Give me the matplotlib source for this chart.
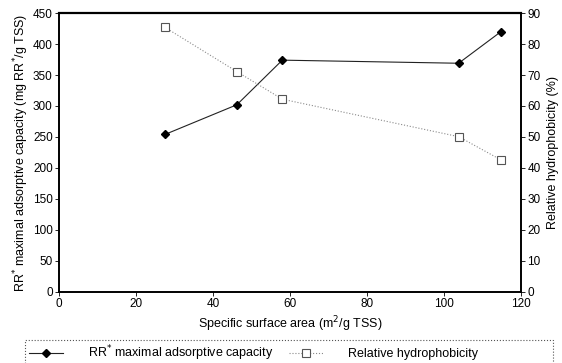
import numpy as np
import matplotlib
matplotlib.use("Agg")
import matplotlib.pyplot as plt
from matplotlib.patches import Rectangle

plt.rcParams['font.family'] = ['Liberation Sans', 'DejaVu Sans']
plt.rcParams['font.size'] = 9

# specific surface area (m2/g TSS)
surface_area = [27.5, 46.2, 58.0, 103.8, 114.8]
# RR maximal adsorptive capacity (mg/g TSS)
capacity = [254, 302, 374, 369, 420]
# relative hydrophobicity (%)
hydrophobicity = [85.4, 71.1, 62.2, 50.1, 42.6]

fig = plt.figure(figsize=(5.62, 3.63), dpi=100)
ax = fig.add_axes([0.105, 0.196, 0.822, 0.768])
ax2 = ax.twinx()

l1, = ax.plot(surface_area, capacity, color='#222222', lw=0.8,
              marker='D', markersize=4.5, markerfacecolor='black',
              markeredgecolor='black',
              label='RR$^{*}$ maximal adsorptive capacity')
l2, = ax2.plot(surface_area, hydrophobicity, color='#8a8a8a', lw=0.8,
               linestyle=':', marker='s', markersize=5.5,
               markerfacecolor='white', markeredgecolor='#555555',
               markeredgewidth=0.8, label='Relative hydrophobicity')

ax.set_xlim(0, 120)
ax.set_ylim(0, 450)
ax2.set_ylim(0, 90)
ax.set_xticks(np.arange(0, 121, 20))
ax.set_yticks(np.arange(0, 451, 50))
ax2.set_yticks(np.arange(0, 91, 10))

for a in (ax, ax2):
    a.tick_params(direction='out', length=3, width=0.6, labelsize=8.5, pad=1.5)
    for s in a.spines.values():
        s.set_linewidth(1.2)
ax.spines['top'].set_linewidth(1.6)

ax.set_xlabel('Specific surface area (m$^2$/g TSS)', labelpad=3)
ax.set_ylabel('RR$^{*}$ maximal adsorptive capacity (mg RR$^{*}$/g TSS)', labelpad=1)
ax2.set_ylabel('Relative hydrophobicity (%)', labelpad=5)

# legend entries without frame, dotted box drawn separately
leg = fig.legend(handles=[l1, l2], loc='center left', ncol=2, frameon=False,
                 bbox_to_anchor=(29 / 562, 1 - 353 / 363),
                 handlelength=2.7, handletextpad=2.0, columnspacing=1.3,
                 borderpad=0, borderaxespad=0, fontsize=9)
box = Rectangle((24.5 / 562, -0.05), (553 - 24.5) / 562, (363 - 339.7) / 363 + 0.05,
                transform=fig.transFigure, fill=False, edgecolor='#555555',
                linestyle=':', linewidth=0.8)
fig.patches.append(box)

fig.savefig('out.png', dpi=100)
